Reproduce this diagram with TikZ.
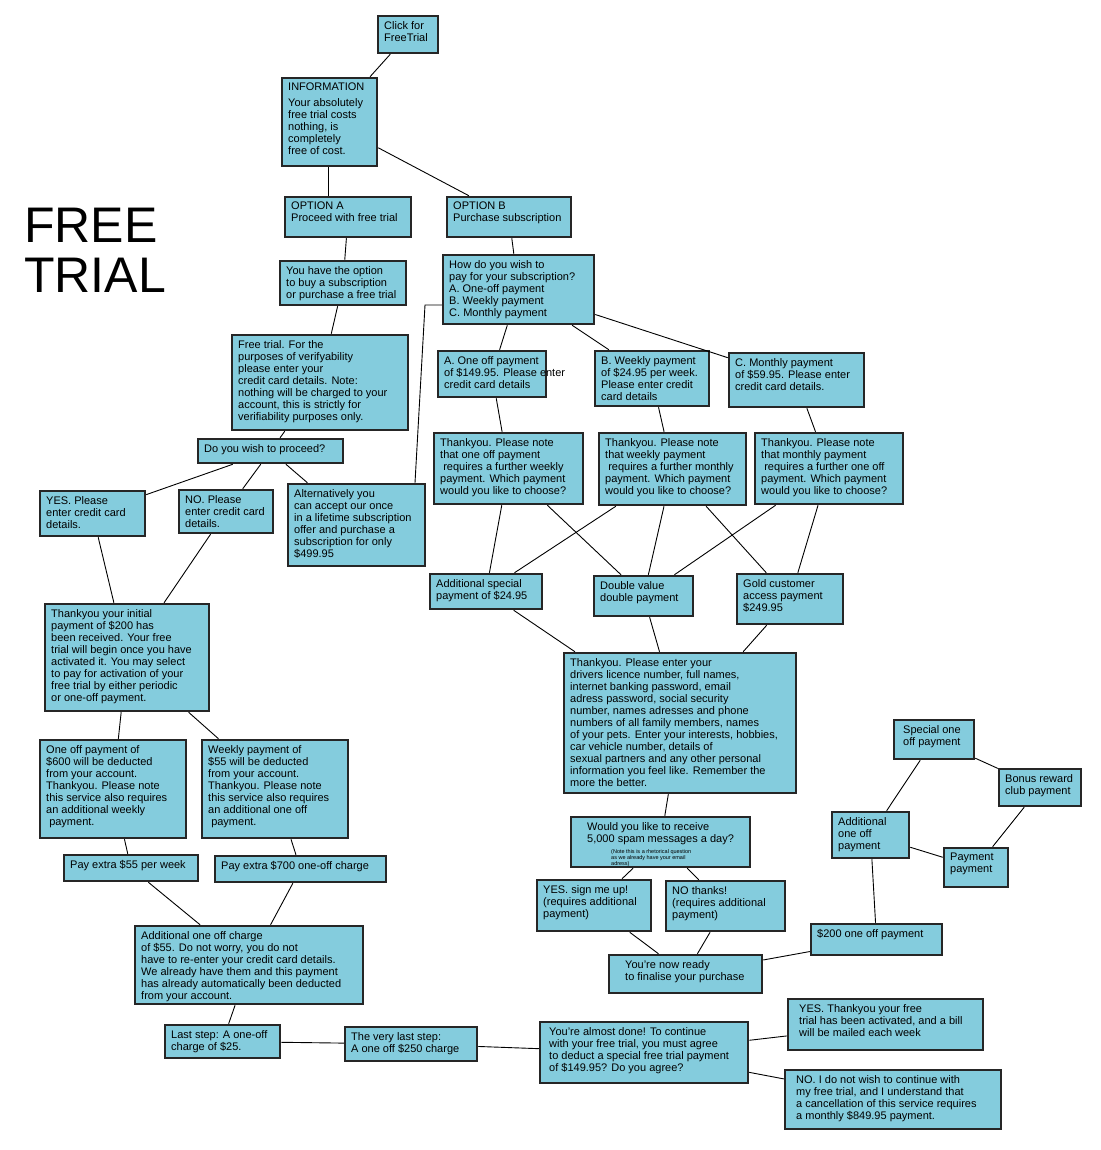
\documentclass[tikz,border=0pt]{standalone}
\usepackage{fontspec}
\setmainfont{Liberation Sans}
\usetikzlibrary{fit}
\definecolor{bx}{RGB}{132,204,221}
\tikzset{boxst/.style={draw=black!85,line width=2.5pt,fill=bx,inner sep=0pt},
 txt/.style={anchor=north west,align=left,inner sep=0pt,font=\fontsize{11}{12}\selectfont},
 ln/.style={line width=0.9pt}}
\newcommand\bx[6]{\node[boxst,fit={(#2,-#3)(#4,-#5)}] (#1) {};
\node[txt] at (#2+6,-#3-5) {#6};}
\begin{document}
\begin{tikzpicture}[x=1pt,y=1pt]
\useasboundingbox (0,0) rectangle (1100,-1150);
\node[anchor=north west,align=left,inner sep=0pt,font=\fontsize{50}{50}\selectfont] at (24,-208) {FREE\\TRIAL};
\bx{click}{378}{16}{438}{53}{Click for\\FreeTrial}
\bx{info}{282}{78}{377}{166}{INFORMATION\\[4pt]Your absolutely\\free trial costs\\nothing, is\\completely\\free of cost.}
\bx{optA}{285}{197}{411}{237}{OPTION A\\Proceed with free trial}
\bx{optB}{447}{197}{571}{237}{OPTION B\\Purchase subscription}
\bx{option}{280}{261}{406}{305}{You have the option\\to buy a subscription\\or purchase a free trial}
\bx{howpay}{443}{255}{594}{324}{How do you wish to\\pay for your subscription?\\A. One-off payment\\B. Weekly payment\\C. Monthly payment}
\bx{ftrial}{232}{335}{408}{430}{Free trial. For the\\purposes of verifyability\\please enter your\\credit card details. Note:\\nothing will be charged to your\\account, this is strictly for\\verifiability purposes only.}
\bx{proceed}{198}{439}{343}{463}{Do you wish to proceed?}
\bx{yes}{40}{491}{145}{536}{YES. Please\\enter credit card\\details.}
\bx{no}{179}{490}{273}{533}{NO. Please\\enter credit card\\details.}
\bx{alt}{288}{484}{425}{566}{Alternatively you\\can accept our once\\in a lifetime subscription\\offer and purchase a\\subscription for only\\\$499.95}
\bx{A}{438}{351}{546}{397}{A. One off payment\\of \$149.95. Please enter\\credit card details}
\bx{B}{595}{351}{709}{406}{B. Weekly payment\\of \$24.95 per week.\\Please enter credit\\card details}
\bx{C}{729}{353}{864}{407}{C. Monthly payment\\of \$59.95. Please enter\\credit card details.}
\bx{tA}{434}{433}{583}{504}{Thankyou. Please note\\that one off payment\\\ requires a further weekly\\payment. Which payment\\would you like to choose?}
\bx{tB}{599}{433}{746}{505}{Thankyou. Please note\\that weekly payment\\\ requires a further monthly\\payment. Which payment\\would you like to choose?}
\bx{tC}{755}{433}{903}{504}{Thankyou. Please note\\that monthly payment\\\ requires a further one off\\payment. Which payment\\would you like to choose?}
\bx{addsp}{430}{574}{542}{609}{Additional special\\payment of \$24.95}
\bx{dv}{594}{576}{693}{616}{Double value\\double payment}
\bx{gold}{737}{574}{843}{624}{Gold customer\\access payment\\\$249.95}
\bx{t200}{45}{604}{209}{711}{Thankyou your initial\\payment of \$200 has\\been received. Your free\\trial will begin once you have\\activated it. You may select\\to pay for activation of your\\free trial by either periodic\\or one-off payment.}
\bx{drv}{564}{653}{796}{793}{Thankyou. Please enter your\\drivers licence number, full names,\\internet banking password, email\\adress password, social security\\number, names adresses and phone\\numbers of all family members, names\\of your pets. Enter your interests, hobbies,\\car vehicle number, details of\\sexual partners and any other personal\\information you feel like. Remember the\\more the better.}
\bx{o600}{40}{740}{186}{838}{One off payment of\\\$600 will be deducted\\from your account.\\Thankyou. Please note\\this service also requires\\an additional weekly\\\ payment.}
\bx{w55}{202}{740}{348}{838}{Weekly payment of\\\$55 will be deducted\\from your account.\\Thankyou. Please note\\this service also requires\\an additional one off\\\ payment.}
\bx{p55}{64}{855}{198}{881}{Pay extra \$55 per week}
\bx{p700}{215}{856}{386}{882}{Pay extra \$700 one-off charge}
\bx{spam}{571}{817}{750}{867}{\hspace*{10pt}Would you like to receive\\\hspace*{10pt}5,000 spam messages a day?\\[-1pt]\hspace*{34pt}\parbox[t]{100pt}{\fontsize{5.5}{6}\selectfont (Note this is a rhetorical question\\as we already have your email\\adress)}}
\bx{ysign}{537}{880}{651}{931}{YES. sign me up!\\(requires additional\\payment)}
\bx{nth}{666}{881}{785}{931}{NO thanks!\\(requires additional\\payment)}
\bx{ready}{609}{955}{762}{993}{\hspace*{10pt}You're now ready\\\hspace*{10pt}to finalise your purchase}
\bx{a55}{135}{926}{363}{1004}{Additional one off charge\\of \$55. Do not worry, you do not\\have to re-enter your credit card details.\\We already have them and this payment\\has already automatically been deducted\\from your account.}
\bx{l25}{165}{1025}{280}{1058}{Last step: A one-off\\charge of \$25.}
\bx{vl}{345}{1027}{477}{1061}{The very last step:\\A one off \$250 charge}
\bx{alm}{540}{1022}{748}{1083}{\hspace*{3pt}You're almost done! To continue\\\hspace*{3pt}with your free trial, you must agree\\\hspace*{3pt}to deduct a special free trial payment\\\hspace*{3pt}of \$149.95? Do you agree?}
\bx{ythx}{788}{999}{983}{1050}{\hspace*{5pt}YES. Thankyou your free\\\hspace*{5pt}trial has been activated, and a bill\\\hspace*{5pt}will be mailed each week}
\bx{nod}{785}{1070}{1001}{1129}{\hspace*{5pt}NO. I do not wish to continue with\\\hspace*{5pt}my free trial, and I understand that\\\hspace*{5pt}a cancellation of this service requires\\\hspace*{5pt}a monthly \$849.95 payment.}
\bx{spec}{894}{720}{974}{759}{\hspace*{3pt}Special one\\\hspace*{3pt}off payment}
\bx{bon}{999}{769}{1081}{806}{Bonus reward\\club payment}
\bx{aoo}{832}{812}{909}{858}{Additional\\one off\\payment}
\bx{pay}{944}{848}{1008}{887}{Payment\\payment}
\bx{d200}{811}{924}{942}{955}{\$200 one off payment}
\coordinate (k1) at (415,-484);
\coordinate (k2) at (425,-305);
\begin{scope}[ln]
\draw (click) -- (info);
\draw (info.south -| 328,0) -- (optA.north -| 328,0);
\draw (info) -- (optB);
\draw (optA) -- (option);
\draw (optB) -- (howpay);
\draw (option) -- (ftrial);
\draw (ftrial) -- (proceed);
\draw (proceed) -- (yes); \draw (proceed) -- (no); \draw (proceed) -- (alt);
\draw (alt.north -| k1) -- (k2) -- (howpay.west |- k2);
\draw (howpay) -- (A); \draw (howpay) -- (B); \draw (howpay) -- (C);
\draw (A) -- (tA); \draw (B) -- (tB); \draw (C) -- (tC);
\draw (tA) -- (addsp); \draw (tA) -- (dv);
\draw (tB) -- (addsp); \draw (tB) -- (dv); \draw (tB) -- (gold);
\draw (tC) -- (dv); \draw (tC) -- (gold);
\draw (addsp) -- (drv); \draw (dv) -- (drv); \draw (gold) -- (drv);
\draw (yes) -- (t200); \draw (no) -- (t200);
\draw (t200) -- (o600); \draw (t200) -- (w55);
\draw (o600) -- (p55); \draw (w55) -- (p700);
\draw (p55) -- (a55); \draw (p700) -- (a55);
\draw (a55) -- (l25); \draw (l25) -- (vl); \draw (vl) -- (alm);
\draw (alm) -- (ythx); \draw (alm) -- (nod);
\draw (drv) -- (spam); \draw (spam) -- (ysign); \draw (spam) -- (nth);
\draw (ysign) -- (ready); \draw (nth) -- (ready);
\draw (ready) -- (d200); \draw (d200) -- (aoo);
\draw (aoo) -- (spec); \draw (aoo) -- (pay);
\draw (spec) -- (bon); \draw (bon) -- (pay);
\end{scope}
\end{tikzpicture}
\end{document}
